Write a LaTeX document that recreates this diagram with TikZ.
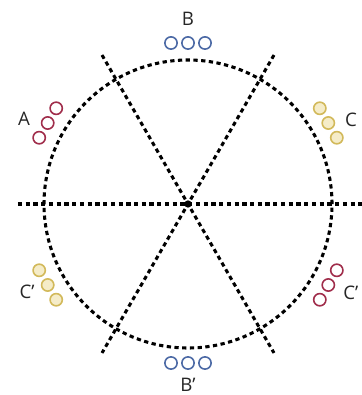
\documentclass[tikz,border=0pt]{standalone}
\usepackage{fontspec}
\setmainfont{Open Sans}
\usetikzlibrary{positioning}
\definecolor{coilred}{RGB}{160,45,75}
\definecolor{coilblue}{RGB}{75,105,165}
\definecolor{coilyellow}{RGB}{210,185,90}
\definecolor{coilfill}{RGB}{245,236,200}

\begin{document}
\begin{tikzpicture}[x=0.75pt,y=0.75pt,
    coil/.style={circle,draw,line width=1.2pt,minimum size=9.2pt,inner sep=0pt},
    axis/.style={line width=2.3pt,dash pattern=on 3.2pt off 2.6pt},
    lbl/.style={font=\fontsize{14}{16}\selectfont,inner sep=0pt,text=black!85}]
        \useasboundingbox (-188,-191) rectangle (173,204);
        % stator circle and axes
        \draw[axis](0,0) circle (144);
        \coordinate (h1) at (180:170);
        \coordinate (h2) at (0:175);
        \coordinate (d1) at (120:172);
        \coordinate (d2) at (300:172);
        \coordinate (e1) at (60:172);
        \coordinate (e2) at (240:172);
        \draw[axis](h1)--(h2);
        \draw[axis](d1)--(d2);
        \draw[axis](e1)--(e2);
        \node[circle,fill,inner sep=0pt,minimum size=5.5pt] (o) at (0,0) {};
        % coils
        \begin{scope}[rotate=0]
          \node[coil,coilblue] (b1) at (-17,161) {};
          \node[coil,coilblue] (b2) at (0,161) {};
          \node[coil,coilblue] (b3) at (17,161) {};
        \end{scope}
        \begin{scope}[rotate=180]
          \node[coil,coilblue] (bb1) at (-17,159) {};
          \node[coil,coilblue] (bb2) at (0,159) {};
          \node[coil,coilblue] (bb3) at (17,159) {};
        \end{scope}
        \begin{scope}[rotate=60]
          \node[coil,coilred] (a1) at (-17,162) {};
          \node[coil,coilred] (a2) at (0,162) {};
          \node[coil,coilred] (a3) at (17,162) {};
        \end{scope}
        \begin{scope}[rotate=-120]
          \node[coil,coilred] (aa1) at (-17,162) {};
          \node[coil,coilred] (aa2) at (0,162) {};
          \node[coil,coilred] (aa3) at (17,162) {};
        \end{scope}
        \begin{scope}[rotate=-60]
          \node[coil,coilyellow,fill=coilfill] (c1) at (-17,162) {};
          \node[coil,coilyellow,fill=coilfill] (c2) at (0,162) {};
          \node[coil,coilyellow,fill=coilfill] (c3) at (17,162) {};
        \end{scope}
        \begin{scope}[rotate=120]
          \node[coil,coilyellow,fill=coilfill] (cc1) at (-17,162) {};
          \node[coil,coilyellow,fill=coilfill] (cc2) at (0,162) {};
          \node[coil,coilyellow,fill=coilfill] (cc3) at (17,162) {};
        \end{scope}
        % labels
        \node[lbl] (lb) at (0,185) {B};
        \node[lbl] (lbb) at (0,-181) {B’};
        \node[lbl] (la) at (-164,85) {A};
        \node[lbl] (lc) at (163,84) {C};
        \node[lbl] (lcc) at (-161,-88) {C’};
        \node[lbl,anchor=west] (laa) at (155,-89) {C’};
\end{tikzpicture}
\end{document}
